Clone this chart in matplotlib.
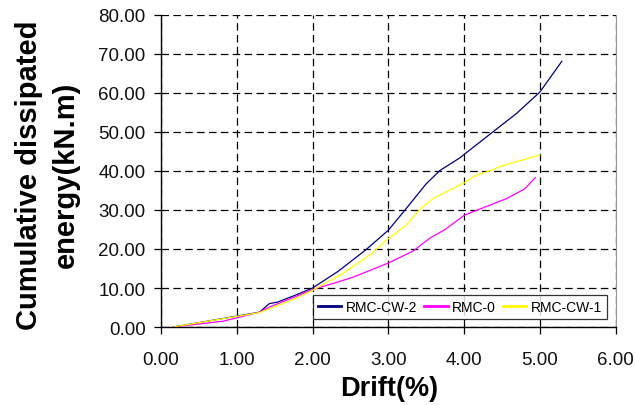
import matplotlib
matplotlib.use("Agg")
import matplotlib.pyplot as plt
from matplotlib.ticker import FormatStrFormatter, MultipleLocator

plt.rcParams['font.family'] = ['Liberation Sans', 'DejaVu Sans']

# Data
cw2_x = [0.16, 1.0, 1.3, 1.43, 1.54, 1.79, 2.0, 2.34, 2.71, 3.0, 3.2, 3.5, 3.68, 3.94, 4.38, 4.69, 5.0, 5.29]
cw2_y = [0.0, 2.8, 3.8, 6.0, 6.4, 8.3, 10.0, 14.3, 19.9, 24.8, 29.5, 36.7, 40.1, 43.3, 50.0, 54.7, 60.2, 68.1]

r0_x = [0.16, 0.82, 1.3, 1.43, 1.79, 2.0, 2.36, 2.54, 3.0, 3.33, 3.55, 3.75, 4.0, 4.19, 4.56, 4.8, 4.94]
r0_y = [0.0, 1.5, 3.8, 5.1, 7.9, 9.6, 11.7, 12.8, 16.4, 19.5, 22.8, 25.0, 28.6, 30.1, 32.9, 35.4, 38.3]

cw1_x = [0.16, 1.3, 1.79, 2.0, 2.4, 2.78, 3.0, 3.24, 3.44, 3.59, 4.0, 4.16, 4.32, 4.52, 5.0]
cw1_y = [0.0, 3.7, 7.4, 9.4, 13.7, 18.8, 22.6, 26.2, 30.6, 32.9, 36.9, 38.9, 39.9, 41.4, 44.1]

labels = ['RMC-CW-2', 'RMC-0', 'RMC-CW-1']
colors = ['#000080', '#FF00FF', '#FFFF00']

fig = plt.figure(figsize=(6.35, 4.06), dpi=100)
ax = fig.add_axes([0.2535, 0.192, 0.716, 0.769])

for (xs, ys), lab, c in zip([(cw2_x, cw2_y), (r0_x, r0_y), (cw1_x, cw1_y)], labels, colors):
    ax.plot(xs, ys, color=c, lw=0.9, label=lab)

ax.set_xlim(0, 6)
ax.set_ylim(0, 80)
ax.xaxis.set_major_locator(MultipleLocator(1))
ax.yaxis.set_major_locator(MultipleLocator(10))
ax.xaxis.set_major_formatter(FormatStrFormatter('%.2f'))
ax.yaxis.set_major_formatter(FormatStrFormatter('%.2f'))

ax.grid(True, color='black', linestyle=(0, (6, 3.5)), linewidth=0.9)
ax.set_axisbelow(True)

ax.spines['top'].set_visible(False)
ax.spines['right'].set_color('#999999')
ax.spines['left'].set_color('black')
ax.spines['bottom'].set_color('black')
ax.spines['left'].set_linewidth(1.0)
ax.spines['bottom'].set_linewidth(1.0)

ax.tick_params(axis='both', direction='out', length=5, width=0.9, labelsize=13.5, colors='black')
ax.tick_params(axis='y', pad=6)
ax.tick_params(axis='x', pad=12)
for t in ax.get_xticklabels() + ax.get_yticklabels():
    t.set_color('#111111')

ax.set_xlabel('Drift(%)', fontsize=19.5, fontweight='bold', va='top')
ax.xaxis.set_label_coords(0.502, -0.155)
ax.set_ylabel('Cumulative dissipated\nenergy(kN.m)', fontsize=21, fontweight='bold',
              linespacing=1.4)
ax.yaxis.set_label_coords(-0.178, 0.49)

leg = ax.legend(loc='lower left', bbox_to_anchor=(0.334, 0.026, 0.646, 0.077), mode='expand',
                ncol=3, fontsize=10, frameon=True, fancybox=False, shadow=False,
                handlelength=1.7, handletextpad=0.3, borderpad=0.35, columnspacing=0.6,
                borderaxespad=0)
leg.get_frame().set_edgecolor('black')
leg.get_frame().set_linewidth(0.9)
for l in leg.get_lines():
    l.set_linewidth(2.0)

fig.savefig('out.png', dpi=100)
